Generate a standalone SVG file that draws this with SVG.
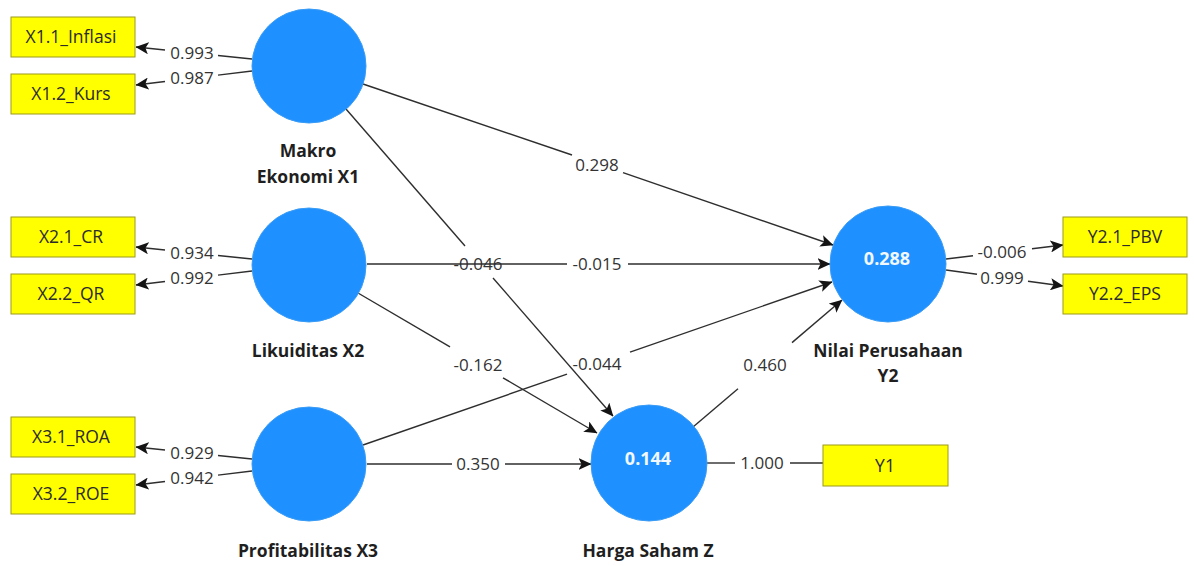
<svg xmlns="http://www.w3.org/2000/svg" width="1194" height="566" viewBox="0 0 1194 566">
  <style>
    .bg { fill: #ffffff; }
    .lv { fill: #1e90ff; stroke: #3a9cf5; stroke-width: 1; }
    .mv rect { fill: #ffff00; stroke: #9c9a1a; stroke-width: 1; }
    .mv text { font-family: "Open Sans", "Noto Sans", sans-serif; font-size: 17.5px; fill: #2b2b2b; text-anchor: middle; }
    .name { font-family: "Open Sans", "Noto Sans", sans-serif; font-size: 17.5px; font-weight: bold; fill: #1f1f1f; text-anchor: middle; }
    .r2 { font-family: "Open Sans", "Noto Sans", sans-serif; font-size: 18px; font-weight: bold; fill: #f2f8ff; text-anchor: middle; }
    .edge { stroke: #2e2e2e; stroke-width: 1.4; fill: none; }
    .coef { font-family: "Open Sans", "Noto Sans", sans-serif; font-size: 17px; fill: #333333; text-anchor: middle; }
  </style>
  <defs>
    <marker id="arrow" viewBox="0 0 13 12" refX="12.5" refY="6" markerWidth="13" markerHeight="12" markerUnits="userSpaceOnUse" orient="auto">
      <path d="M0,0 L13,6 L0,12 L3,6 Z" fill="#141414"/>
    </marker>
  </defs>
  <rect class="bg" x="0" y="0" width="1194" height="566"/>

  <!-- connectors: each line is split around its coefficient label -->
  <g id="connectors">
    <!-- outer loadings, Makro Ekonomi X1 -->
    <line class="edge" x1="252" y1="59" x2="218" y2="55.5"/>
    <line class="edge" x1="165" y1="50" x2="136" y2="47" marker-end="url(#arrow)"/>
    <text class="coef" x="192" y="59">0.993</text>
    <line class="edge" x1="252" y1="71" x2="218" y2="75.1"/>
    <line class="edge" x1="165" y1="81.5" x2="136" y2="85" marker-end="url(#arrow)"/>
    <text class="coef" x="192" y="84">0.987</text>

    <!-- outer loadings, Likuiditas X2 -->
    <line class="edge" x1="252" y1="259" x2="218" y2="255.5"/>
    <line class="edge" x1="165" y1="250" x2="136" y2="247" marker-end="url(#arrow)"/>
    <text class="coef" x="192" y="259">0.934</text>
    <line class="edge" x1="252" y1="271" x2="218" y2="275.1"/>
    <line class="edge" x1="165" y1="281.5" x2="136" y2="285" marker-end="url(#arrow)"/>
    <text class="coef" x="192" y="284">0.992</text>

    <!-- outer loadings, Profitabilitas X3 -->
    <line class="edge" x1="252" y1="459" x2="218" y2="455.5"/>
    <line class="edge" x1="165" y1="450" x2="136" y2="447" marker-end="url(#arrow)"/>
    <text class="coef" x="192" y="459">0.929</text>
    <line class="edge" x1="252" y1="471" x2="218" y2="475.1"/>
    <line class="edge" x1="165" y1="481.5" x2="136" y2="485" marker-end="url(#arrow)"/>
    <text class="coef" x="192" y="484">0.942</text>

    <!-- outer loadings, Nilai Perusahaan Y2 -->
    <line class="edge" x1="946" y1="259" x2="973" y2="255.8"/>
    <line class="edge" x1="1032" y1="248.7" x2="1063" y2="245" marker-end="url(#arrow)"/>
    <text class="coef" x="1002" y="258">-0.006</text>
    <line class="edge" x1="946" y1="270" x2="977" y2="274.2"/>
    <line class="edge" x1="1028" y1="281.2" x2="1063" y2="286" marker-end="url(#arrow)"/>
    <text class="coef" x="1002" y="284">0.999</text>

    <!-- Harga Saham Z single indicator -->
    <line class="edge" x1="707" y1="463" x2="735" y2="463"/>
    <line class="edge" x1="790" y1="463" x2="823" y2="463"/>
    <text class="coef" x="762" y="469">1.000</text>

    <!-- inner model paths -->
    <!-- X1 -> Y2 -->
    <line class="edge" x1="363" y1="84" x2="572" y2="155"/>
    <line class="edge" x1="623" y1="172.7" x2="833" y2="245" marker-end="url(#arrow)"/>
    <text class="coef" x="597" y="171">0.298</text>
    <!-- X1 -> Z -->
    <line class="edge" x1="346" y1="109" x2="465" y2="246"/>
    <line class="edge" x1="493" y1="278" x2="613" y2="416" marker-end="url(#arrow)"/>
    <text class="coef" x="478" y="270">-0.046</text>
    <!-- X2 -> Y2 -->
    <line class="edge" x1="367" y1="264" x2="567" y2="264"/>
    <line class="edge" x1="628" y1="264" x2="830" y2="264" marker-end="url(#arrow)"/>
    <text class="coef" x="597" y="270">-0.015</text>
    <!-- X2 -> Z -->
    <line class="edge" x1="358" y1="293" x2="450" y2="346.8"/>
    <line class="edge" x1="503" y1="377.8" x2="597" y2="433" marker-end="url(#arrow)"/>
    <text class="coef" x="478" y="371">-0.162</text>
    <!-- X3 -> Y2 -->
    <line class="edge" x1="363" y1="445" x2="567" y2="374.1"/>
    <line class="edge" x1="630" y1="352.2" x2="832" y2="282" marker-end="url(#arrow)"/>
    <text class="coef" x="597" y="370">-0.044</text>
    <!-- X3 -> Z -->
    <line class="edge" x1="367" y1="464" x2="452" y2="464"/>
    <line class="edge" x1="505" y1="464" x2="591" y2="464" marker-end="url(#arrow)"/>
    <text class="coef" x="478" y="470">0.350</text>
    <!-- Z -> Y2 -->
    <line class="edge" x1="693" y1="427" x2="738" y2="388.7"/>
    <line class="edge" x1="792" y1="342.6" x2="842" y2="300" marker-end="url(#arrow)"/>
    <text class="coef" x="765" y="371">0.460</text>
  </g>

  <!-- latent variables -->
  <g id="makro-ekonomi-x1">
    <circle class="lv" cx="309" cy="66" r="57"/>
    <text class="name" x="308" y="157">Makro</text>
    <text class="name" x="308" y="183">Ekonomi X1</text>
  </g>
  <g id="likuiditas-x2">
    <circle class="lv" cx="309" cy="265" r="57"/>
    <text class="name" x="308" y="357">Likuiditas X2</text>
  </g>
  <g id="profitabilitas-x3">
    <circle class="lv" cx="309" cy="464" r="57"/>
    <text class="name" x="308" y="557">Profitabilitas X3</text>
  </g>
  <g id="harga-saham-z">
    <circle class="lv" cx="649" cy="463" r="58"/>
    <text class="r2" x="648" y="465">0.144</text>
    <text class="name" x="648" y="557">Harga Saham Z</text>
  </g>
  <g id="nilai-perusahaan-y2">
    <circle class="lv" cx="888" cy="264" r="58"/>
    <text class="r2" x="887" y="265">0.288</text>
    <text class="name" x="888" y="357">Nilai Perusahaan</text>
    <text class="name" x="888" y="382">Y2</text>
  </g>

  <!-- indicators -->
  <g id="x1-1-inflasi" class="mv">
    <rect x="11" y="17" width="124" height="40"/>
    <text x="71" y="43">X1.1_Inflasi</text>
  </g>
  <g id="x1-2-kurs" class="mv">
    <rect x="11" y="74" width="124" height="40"/>
    <text x="71" y="100">X1.2_Kurs</text>
  </g>
  <g id="x2-1-cr" class="mv">
    <rect x="11" y="217" width="124" height="40"/>
    <text x="71" y="243">X2.1_CR</text>
  </g>
  <g id="x2-2-qr" class="mv">
    <rect x="11" y="274" width="124" height="40"/>
    <text x="71" y="300">X2.2_QR</text>
  </g>
  <g id="x3-1-roa" class="mv">
    <rect x="11" y="417" width="124" height="40"/>
    <text x="71" y="443">X3.1_ROA</text>
  </g>
  <g id="x3-2-roe" class="mv">
    <rect x="11" y="474" width="124" height="40"/>
    <text x="71" y="500">X3.2_ROE</text>
  </g>
  <g id="y2-1-pbv" class="mv">
    <rect x="1063" y="217" width="124" height="40"/>
    <text x="1125" y="243">Y2.1_PBV</text>
  </g>
  <g id="y2-2-eps" class="mv">
    <rect x="1063" y="274" width="124" height="40"/>
    <text x="1125" y="300">Y2.2_EPS</text>
  </g>
  <g id="y1" class="mv">
    <rect x="823" y="445" width="125" height="41"/>
    <text x="885" y="472">Y1</text>
  </g>
</svg>
